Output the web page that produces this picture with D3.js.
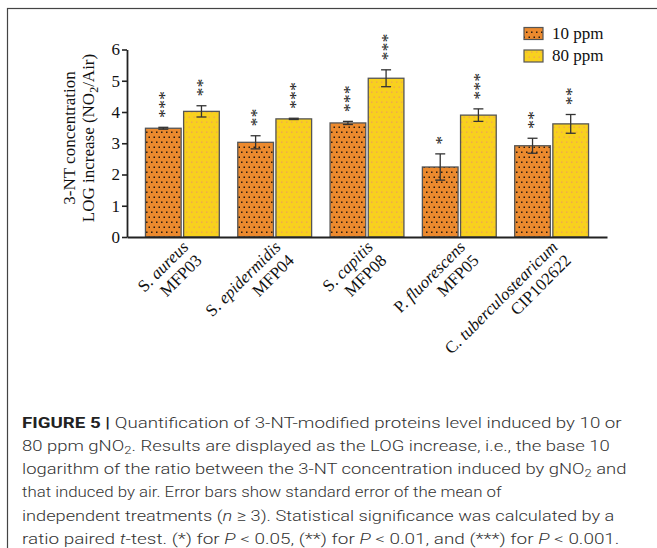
<!DOCTYPE html>
<html><head><meta charset="utf-8">
<script src="https://cdn.jsdelivr.net/npm/d3@7"></script>
<style>
html,body{margin:0;padding:0;background:#fff;}
svg{display:block;}
</style></head>
<body>
<script>
// ---- data ----
const genus = ["S.", "S.", "S.", "P.", "C."];
const species = ["aureus", "epidermidis", "capitis", "fluorescens", "tuberculostearicum"];
const strains = ["MFP03", "MFP04", "MFP08", "MFP05", "CIP102622"];
const seriesNames = ["10 ppm", "80 ppm"];
const values10 = [3.48, 3.03, 3.65, 2.24, 2.92];
const sem10 = [0.03, 0.21, 0.05, 0.42, 0.24];
const values80 = [4.02, 3.78, 5.08, 3.90, 3.62];
const sem80 = [0.18, 0.02, 0.27, 0.20, 0.30];
const stars10 = ["***", "**", "***", "*", "**"];
const stars80 = ["**", "***", "***", "***", "**"];
const yTicks = [0, 1, 2, 3, 4, 5, 6];
const yLabelLines = ["3-NT concentration", "LOG increase (NO|2|/Air)"];
const captionLines = [
  [["FIGURE 5 | ", "b"], ["Quantification of 3-NT-modified proteins level induced by 10 or", ""]],
  [["80 ppm gNO", ""], ["2", "sub"], [". Results are displayed as the LOG increase, i.e., the base 10", ""]],
  [["logarithm of the ratio between the 3-NT concentration induced by gNO", ""], ["2", "sub"], [" and", ""]],
  [["that induced by air. Error bars show standard error of the mean of", ""]],
  [["independent treatments (", ""], ["n", "i"], [" \u2265 3). Statistical significance was calculated by a", ""]],
  [["ratio paired ", ""], ["t", "i"], ["-test. (*) for ", ""], ["P", "i"], [" < 0.05, (**) for ", ""], ["P", "i"], [" < 0.01, and (***) for ", ""], ["P", "i"], [" < 0.001.", ""]]
];
const captionWidths = [600, 588, 605, 480, 593, 598];

// ---- chart ----
const W = 657, H = 548;
const svg = d3.select("body").append("svg").attr("width", W).attr("height", H);
const serif = "'Liberation Serif','Times New Roman',serif";
const defs = svg.append("defs");

function makePattern(id, base, dot, dotSize) {
  const p = defs.append("pattern").attr("id", id).attr("patternUnits", "userSpaceOnUse")
    .attr("width", 5).attr("height", 10);
  p.append("rect").attr("width", 5).attr("height", 10).attr("fill", base);
  p.append("rect").attr("x", 1).attr("y", 1.5).attr("width", dotSize).attr("height", dotSize).attr("fill", dot);
  p.append("rect").attr("x", 3.5).attr("y", 6.5).attr("width", dotSize).attr("height", dotSize).attr("fill", dot);
}
makePattern("p10", "#EC8A2E", "#2b1a0e", 1.5);
makePattern("p80", "#F8D11E", "#F2A550", 1.4);
const fills = ["url(#p10)", "url(#p80)"];

// frame
svg.append("rect").attr("x", 7.5).attr("y", 8.5).attr("width", 700).attr("height", 600)
  .attr("fill", "none").attr("stroke", "#444").attr("stroke-width", 1.2);

const y = d3.scaleLinear().domain([0, 6]).range([237, 49.5]);
const x = d3.scaleBand().domain(d3.range(species.length)).range([127, 607]).paddingInner(0.2).paddingOuter(0.2);
const xs = d3.scaleBand().domain([0, 1]).range([0, x.bandwidth()]).paddingInner(0.065);

const data = [];
species.forEach((s, i) => {
  data.push({i, s: 0, v: values10[i], e: sem10[i], st: stars10[i]});
  data.push({i, s: 1, v: values80[i], e: sem80[i], st: stars80[i]});
});

// bars
svg.append("g").selectAll("rect").data(data).join("rect")
  .attr("x", d => x(d.i) + xs(d.s))
  .attr("y", d => y(d.v))
  .attr("width", xs.bandwidth())
  .attr("height", d => y(0) - y(d.v))
  .attr("fill", d => fills[d.s])
  .attr("stroke", "#555").attr("stroke-width", 1.3);

// error bars
const eg = svg.append("g").attr("stroke", "#333").attr("stroke-width", 1.3).attr("fill", "none");
data.forEach(d => {
  const cx = x(d.i) + xs(d.s) + xs.bandwidth() / 2;
  const yt = y(d.v + d.e), yb = y(d.v - d.e);
  eg.append("line").attr("x1", cx).attr("x2", cx).attr("y1", yt).attr("y2", yb);
  eg.append("line").attr("x1", cx - 5).attr("x2", cx + 5).attr("y1", yt).attr("y2", yt);
  eg.append("line").attr("x1", cx - 5).attr("x2", cx + 5).attr("y1", yb).attr("y2", yb);
});

// significance stars (vertical text, as in the original)
const sg = svg.append("g").attr("font-family", serif).attr("font-size", 17).attr("fill", "#222");
data.forEach(d => {
  const cx = x(d.i) + xs(d.s) + xs.bandwidth() / 2 - 1;
  const yt = y(d.v + d.e);
  sg.append("text")
    .attr("transform", `translate(${cx + 7.8},${yt - 9.5}) rotate(-90)`)
    .attr("letter-spacing", 0.5)
    .text(d.st);
});

// y axis
const ya = svg.append("g").attr("transform", "translate(127,0)")
  .call(d3.axisLeft(y).tickValues(yTicks).tickFormat(d3.format("d")).tickSize(5).tickSizeOuter(0).tickPadding(2));
ya.select(".domain").attr("stroke", "#222").attr("stroke-width", 1.8);
ya.selectAll(".tick line").attr("stroke", "#222").attr("stroke-width", 1.6);
ya.selectAll(".tick text").attr("font-family", serif).attr("font-size", 17).attr("fill", "#111");

// x axis
const xa = svg.append("g").attr("transform", "translate(0,237)")
  .call(d3.axisBottom(x).tickSize(0).tickSizeOuter(0).tickFormat(""));
xa.select(".domain").attr("stroke", "#222").attr("stroke-width", 1.8);

// x labels
species.forEach((s, i) => {
  const cx = x(i) + x.bandwidth() / 2;
  const t = svg.append("text").attr("font-family", serif).attr("font-size", 17).attr("fill", "#111")
    .attr("text-anchor", "end").attr("transform", `translate(${cx + 7},248) rotate(-45)`);
  const l1 = t.append("tspan").attr("x", 0).attr("y", 0);
  l1.append("tspan").text(genus[i] + " ");
  l1.append("tspan").attr("font-style", "italic").text(s);
  t.append("tspan").attr("x", 0).attr("y", 19).text(strains[i]);
});

// y label
yLabelLines.forEach((ln, k) => {
  const t = svg.append("text").attr("font-family", serif).attr("font-size", 17).attr("fill", "#111")
    .attr("text-anchor", "middle").attr("transform", `translate(${75 + 19 * k},138) rotate(-90)`);
  ln.split("|").forEach((part, j) => {
    const sp = t.append("tspan").text(part);
    if (j === 1) sp.attr("font-size", 12).attr("dy", 4);
    if (j === 2) sp.attr("dy", -4);
  });
});

// legend
seriesNames.forEach((n, k) => {
  const yy = 27.5 + 22.5 * k;
  svg.append("rect").attr("x", 524).attr("y", yy).attr("width", 19).attr("height", 12)
    .attr("fill", fills[k]).attr("stroke", "#555").attr("stroke-width", 1.2);
  svg.append("text").attr("x", 552).attr("y", yy + 11).attr("font-family", serif).attr("font-size", 17)
    .attr("fill", "#111").text(n);
});

// caption
captionLines.forEach((segs, li) => {
  const by = 427.5 + 23.3 * li;
  const t = svg.append("text").attr("x", 0).attr("y", 0)
    .attr("font-family", "Roboto, 'Liberation Sans', Arial, sans-serif").attr("font-weight", 300)
    .attr("font-size", 15.5).attr("fill", "#333");
  segs.forEach(([txt, st], idx) => {
    const sp = t.append("tspan").text(txt);
    if (st === "b") sp.attr("font-weight", 700).attr("fill", "#222");
    if (st === "i") sp.attr("font-style", "italic");
    if (st === "sub") sp.attr("font-size", 11).attr("dy", 3);
    if (idx > 0 && segs[idx - 1][1] === "sub") sp.attr("dy", -3);
  });
  const w = t.node().getComputedTextLength();
  t.attr("transform", `translate(22,${by}) scale(${captionWidths[li] / w},1)`);
});
</script>
</body></html>
